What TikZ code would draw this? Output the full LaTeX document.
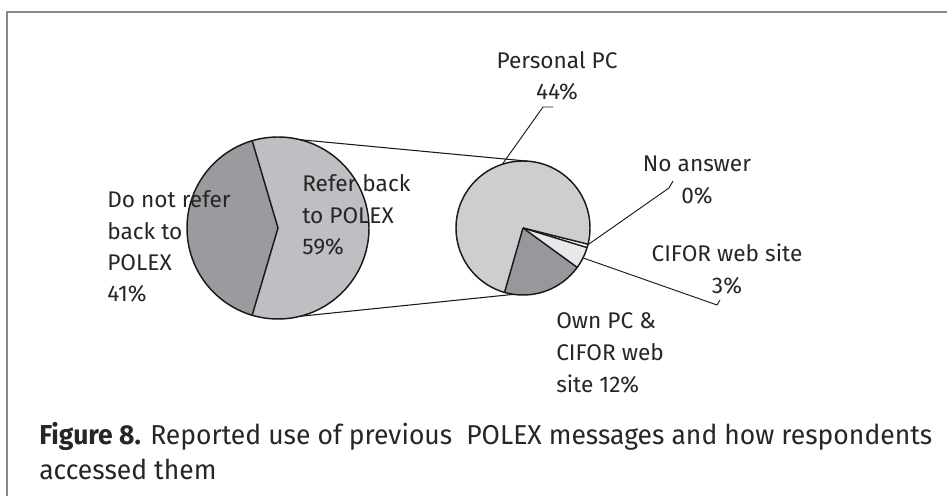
\documentclass[tikz,border=0pt]{standalone}
\usepackage{fontspec}
\usepackage{graphicx}
\setmainfont{Fira Sans}
\usetikzlibrary{calc}
\definecolor{bigdark}{HTML}{9B9B9F}
\definecolor{biglight}{HTML}{BEBFC3}
\definecolor{smlight}{HTML}{CDCED0}
\definecolor{smdark}{HTML}{98989C}
\definecolor{smpale}{HTML}{E8E8EA}
\definecolor{framegray}{HTML}{888888}
\newlength\capwidthnat
\newcommand\capfontcmd{\fontsize{20.5}{26}\selectfont}
\newcommand\capone{\textbf{Figure 8.} Reported use of previous\ \ POLEX messages and how respondents}
\tikzset{
  pieline/.style={line width=1.1pt, black!90},
  leader/.style={line width=0.7pt, black!90},
  conn/.style={line width=0.8pt, black!90},
  lbl/.style={inner sep=0pt, font=\fontsize{17}{23.6}\selectfont, text=black!85},
  capfont/.style={inner sep=0pt, font=\capfontcmd, text=black!85},
}
\begin{document}
\settowidth{\capwidthnat}{\capfontcmd\capone}
\pgfmathsetmacro\capsx{669.75/\capwidthnat}
\begin{tikzpicture}[x=0.75pt,y=0.75pt]
\useasboundingbox (0,0) rectangle (947,496);
% frame
\draw[framegray, line width=1.5pt] (7,0) -- (7,484) -- (947,484);
% big pie
\coordinate (B) at (278,268);
\def\rb{91}
\fill[bigdark] (B) -- ++(106.5:\rb) arc[start angle=106.5, end angle=253.5, radius=\rb] -- cycle;
\fill[biglight] (B) -- ++(-106.5:\rb) arc[start angle=-106.5, end angle=106.5, radius=\rb] -- cycle;
\draw[pieline] ($(B)+(106.5:\rb)$) -- (B) -- ($(B)+(-106.5:\rb)$);
\draw[pieline] (B) circle[radius=\rb];
% small pie
\coordinate (S) at (523,268);
\def\rs{67}
\fill[smlight] (S) -- ++(-14:\rs) arc[start angle=-14, end angle=254, radius=\rs] -- cycle;
\fill[smdark] (S) -- ++(-106:\rs) arc[start angle=-106, end angle=-36, radius=\rs] -- cycle;
\fill[smpale] (S) -- ++(-36:\rs) arc[start angle=-36, end angle=-17, radius=\rs] -- cycle;
\fill[white] (S) -- ++(-17:\rs) arc[start angle=-17, end angle=-14, radius=\rs] -- cycle;
\draw[pieline] (S) -- ++(-106:\rs);
\draw[pieline] (S) -- ++(-36:\rs);
\draw[pieline] (S) -- ++(-17:\rs);
\draw[pieline] (S) -- ++(-14:\rs);
\draw[pieline] (S) circle[radius=\rs];
% connectors between pies
\coordinate (Bt) at ($(B)+(76:\rb)$);
\coordinate (Bb) at ($(B)+(-76:\rb)$);
\coordinate (St) at ($(S)+(86:\rs)$);
\coordinate (Sb) at ($(S)+(-98:\rs)$);
\draw[conn] (Bt) -- (St);
\draw[conn] (Bb) -- (Sb);
% leader lines
\coordinate (pPC) at ($(S)+(108:\rs)$);
\coordinate (pNA) at ($(S)+(-14.5:\rs)$);
\coordinate (pCW) at ($(S)+(-26.5:\rs)$);
\coordinate (kPC1) at (543,389);
\coordinate (kPC2) at (553,389);
\coordinate (kNA1) at (669,308);
\coordinate (kNA2) at (673,315);
\coordinate (kCW1) at (717,191);
\coordinate (kCW2) at (720,196);
\draw[leader] (pPC) -- (kPC1) -- (kPC2);
\draw[leader] (pNA) -- (kNA1) -- (kNA2);
\draw[leader] (pCW) -- (kCW1) -- (kCW2);
% labels (base anchor = baseline of last line)
\node[lbl, anchor=base west, align=left] (lDN) at (107,194) {Do not refer\\back to\\POLEX\\41\%};
\node[lbl, anchor=base west, align=left] (lRB) at (302,241.3) {Refer back\\to POLEX\\59\%};
\node[lbl, anchor=base, align=center] (lPC) at (557,396) {Personal PC\\44\%};
\node[lbl, anchor=base, align=center] (lNA) at (697,292.7) {No answer\\0\%};
\node[lbl, anchor=base, align=center] (lCW) at (727,202.7) {CIFOR web site\\3\%};
\node[lbl, anchor=base west, align=left, font=\fontsize{17}{24.1}\selectfont] (lOP) at (556,103.3) {Own PC \&\\CIFOR web\\site 12\%};
% caption
\node[capfont, anchor=base west] (cap1) at (39,51) {\scalebox{\capsx}[1]{\capone}};
\node[capfont, anchor=base west] (cap2) at (39,16) {\scalebox{\capsx}[1]{accessed them}};
\end{tikzpicture}
\end{document}
